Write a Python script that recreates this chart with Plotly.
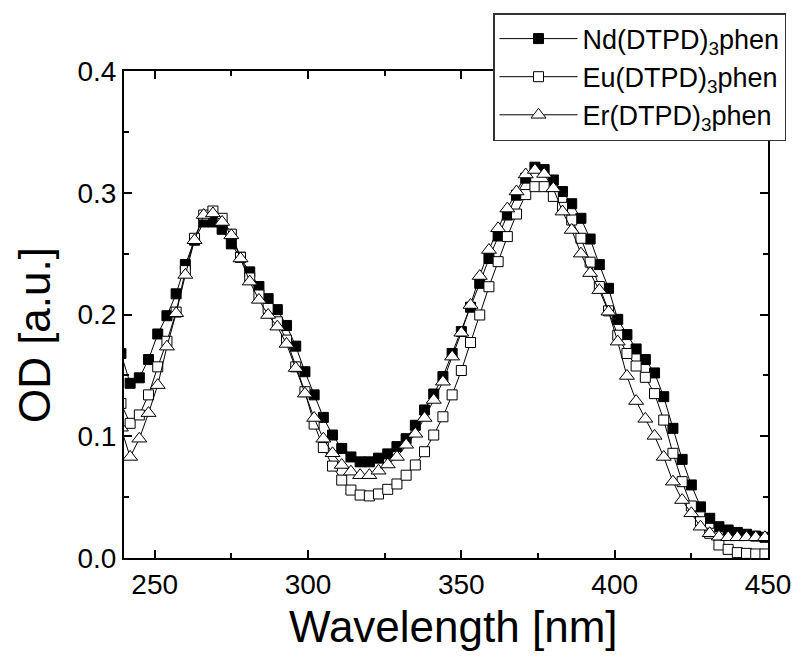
import plotly.graph_objects as go

wavelength = [239, 242, 245, 248, 251, 254, 257, 260, 263, 266, 269, 272, 275, 278, 281, 284, 287, 290,
              293, 296, 299, 302, 305, 308, 311, 314, 317, 320, 323, 326, 329, 332, 335, 338, 341, 344,
              347, 350, 353, 356, 359, 362, 365, 368, 371, 374, 377, 380, 383, 386, 389, 392, 395, 398,
              401, 404, 407, 410, 413, 416, 419, 422, 425, 428, 431, 434, 437, 440, 443, 446, 449]

nd_od = [0.168, 0.1435, 0.148, 0.163, 0.184, 0.199, 0.217, 0.241, 0.261, 0.276, 0.276, 0.270, 0.258,
         0.247, 0.235, 0.223, 0.213, 0.204, 0.191, 0.174, 0.153, 0.134, 0.1155, 0.101, 0.090, 0.083,
         0.079, 0.079, 0.082, 0.0855, 0.0915, 0.098, 0.109, 0.1216, 0.1347, 0.149, 0.168, 0.186,
         0.206, 0.2256, 0.246, 0.2645, 0.2817, 0.298, 0.312, 0.321, 0.319, 0.3105, 0.301, 0.291,
         0.279, 0.262, 0.241, 0.2215, 0.196, 0.1835, 0.1717, 0.163, 0.152, 0.1325, 0.1065, 0.081,
         0.060, 0.042, 0.0326, 0.0257, 0.023, 0.021, 0.0195, 0.018, 0.017]

eu_od = [0.127, 0.1106, 0.1175, 0.134, 0.157, 0.178, 0.202, 0.236, 0.2626, 0.2817, 0.285, 0.279,
         0.266, 0.247, 0.230, 0.216, 0.205, 0.194, 0.179, 0.157, 0.1366, 0.110, 0.0907, 0.0755,
         0.064, 0.0558, 0.0517, 0.051, 0.0526, 0.0564, 0.0608, 0.068, 0.0764, 0.0873, 0.101, 0.116,
         0.134, 0.154, 0.177, 0.1996, 0.2228, 0.2434, 0.264, 0.2825, 0.2985, 0.305, 0.305, 0.297,
         0.288, 0.2776, 0.2626, 0.243, 0.223, 0.203, 0.183, 0.168, 0.1577, 0.1484, 0.135, 0.1133,
         0.086, 0.0627, 0.0427, 0.0298, 0.0203, 0.0107, 0.0071, 0.0044, 0.0038, 0.0033, 0.0033]

er_od = [0.107, 0.083, 0.098, 0.119, 0.142, 0.1736, 0.201, 0.2325, 0.261, 0.2817, 0.283, 0.276,
         0.265, 0.246, 0.227, 0.212, 0.1996, 0.190, 0.1758, 0.156, 0.135, 0.115, 0.098, 0.086,
         0.0764, 0.0709, 0.068, 0.068, 0.0717, 0.0768, 0.083, 0.093, 0.102, 0.115, 0.1298, 0.1448,
         0.1654, 0.185, 0.2078, 0.2316, 0.253, 0.2708, 0.287, 0.301, 0.315, 0.3187, 0.3154, 0.3036,
         0.2845, 0.2694, 0.250, 0.234, 0.220, 0.2023, 0.1777, 0.1495, 0.1289, 0.1143, 0.1003, 0.083,
         0.0627, 0.0476, 0.0367, 0.0257, 0.0203, 0.0175, 0.017, 0.017, 0.017, 0.017, 0.017]

series = [
    ("Nd(DTPD)<sub>3</sub>phen", nd_od, "square", "black", 10),
    ("Eu(DTPD)<sub>3</sub>phen", eu_od, "square", "white", 10),
    ("Er(DTPD)<sub>3</sub>phen", er_od, "triangle-up", "white", 13),
]

x_title = "Wavelength [nm]"
y_title = "OD [a.u.]"

FONT = "Liberation Sans, Arial, sans-serif"

fig = go.Figure()
for name, vals, sym, fill, size in series:
    fig.add_trace(go.Scatter(
        x=wavelength, y=vals, name=name, mode="lines+markers",
        line=dict(color="black", width=1),
        marker=dict(symbol=sym, size=size, color=fill, line=dict(color="black", width=1)),
    ))

axis_common = dict(
    showline=True, linecolor="black", linewidth=2, mirror="ticks",
    ticks="inside", ticklen=8, tickwidth=1.5, tickcolor="black",
    showgrid=False, zeroline=False,
    tickfont=dict(family=FONT, size=28, color="black"),
)

fig.update_xaxes(
    range=[240, 450], tickvals=[250, 300, 350, 400, 450],
    minor=dict(ticks="inside", ticklen=5, tickwidth=1.5, tickcolor="black", dtick=25, tick0=250),
    **axis_common,
)
fig.update_yaxes(
    range=[0, 0.4], tickvals=[0.0, 0.1, 0.2, 0.3, 0.4], tickformat=".1f",
    minor=dict(ticks="inside", ticklen=5, tickwidth=1.5, tickcolor="black", dtick=0.05, tick0=0),
    **axis_common,
)

fig.add_annotation(text=x_title, xref="paper", yref="paper", x=0.512, y=-0.14,
                   xanchor="center", yanchor="middle", showarrow=False,
                   font=dict(family=FONT, size=44, color="black"))
fig.add_annotation(text=y_title, xref="paper", yref="paper", x=-0.138, y=0.458,
                   xanchor="center", yanchor="middle", showarrow=False, textangle=-90,
                   font=dict(family=FONT, size=44, color="black"))

fig.update_layout(
    width=803, height=658,
    margin=dict(l=124, r=35, t=71, b=100),
    plot_bgcolor="white", paper_bgcolor="white",
    font=dict(family=FONT, color="black"),
    legend=dict(
        x=0.573, y=1.119, xanchor="left", yanchor="top",
        bgcolor="white", bordercolor="#333333", borderwidth=1.5,
        font=dict(family=FONT, size=27, color="black"),
        itemwidth=78, tracegroupgap=0,
    ),
)

fig.write_html("out.html")
